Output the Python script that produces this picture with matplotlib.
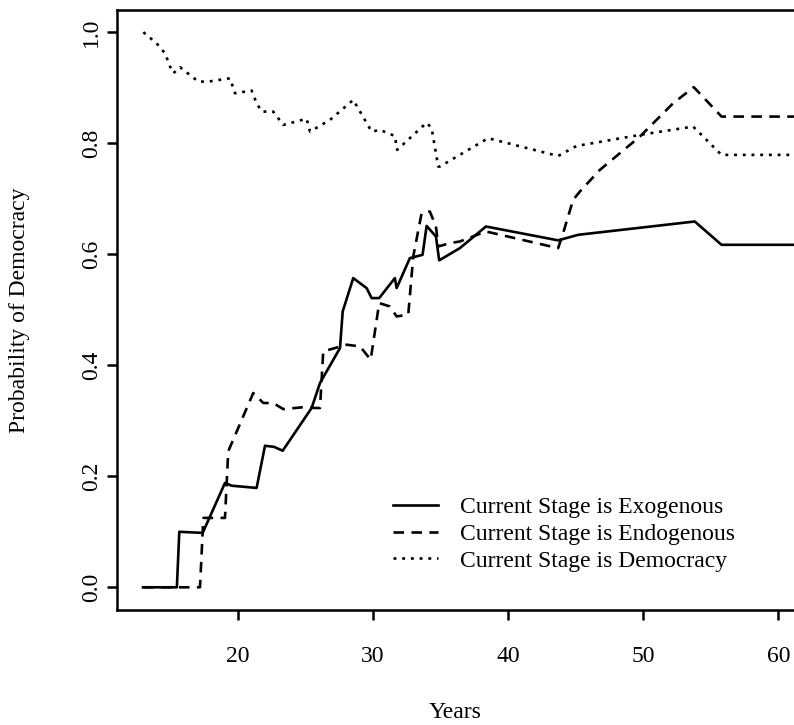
import numpy as np
import matplotlib
matplotlib.use("Agg")
import matplotlib.pyplot as plt

plt.rcParams['font.family'] = ['Liberation Serif', 'DejaVu Serif']

# Current stage is exogenous (solid)
exo_years = [13.0, 15.5, 15.68, 17.41, 19.06, 19.56, 21.4, 22.02, 22.69, 23.33, 25.47,
             26.09, 27.57, 27.77, 28.55, 29.54, 29.91, 30.47, 31.63, 31.76, 32.74, 33.68,
             33.98, 34.67, 34.91, 36.44, 38.37, 43.71, 45.19, 53.82, 55.8, 61.3]
exo_prob = [0.0, 0.0, 0.10, 0.098, 0.188, 0.183, 0.179, 0.255, 0.253, 0.246, 0.323,
            0.368, 0.431, 0.497, 0.557, 0.539, 0.521, 0.521, 0.557, 0.539, 0.593, 0.599,
            0.651, 0.632, 0.589, 0.611, 0.650, 0.625, 0.635, 0.659, 0.617, 0.617]

# Current stage is endogenous (dashed)
endo_years = [13.0, 17.21, 17.46, 19.06, 19.3, 21.15, 21.9, 22.63, 23.37, 25.1, 25.7,
              26.09, 26.33, 28.06, 29.05, 29.84, 30.47, 31.26, 31.76, 32.62, 32.99, 33.61,
              34.22, 34.67, 34.84, 35.7, 36.44, 38.37, 43.71, 44.08, 44.82, 45.32, 46.8,
              49.76, 52.22, 53.75, 55.8, 61.3]
endo_prob = [0.0, 0.0, 0.125, 0.125, 0.245, 0.350, 0.332, 0.332, 0.321, 0.325, 0.323,
             0.323, 0.425, 0.437, 0.434, 0.410, 0.512, 0.506, 0.488, 0.491, 0.596, 0.674,
             0.677, 0.650, 0.614, 0.620, 0.623, 0.641, 0.611, 0.638, 0.698, 0.713, 0.752,
             0.812, 0.872, 0.901, 0.848, 0.848]

# Current stage is democracy (dotted)
demo_years = [13.02, 14.0, 14.62, 15.0, 15.24, 15.73, 17.09, 17.83, 19.43, 19.8, 21.03,
              21.4, 21.78, 22.63, 23.37, 25.1, 25.35, 26.83, 28.55, 29.91, 30.53, 31.63,
              31.8, 33.98, 34.35, 34.84, 34.96, 38.53, 43.71, 45.07, 49.76, 53.7, 55.8, 61.3]
demo_prob = [1.0, 0.98, 0.962, 0.938, 0.926, 0.937, 0.911, 0.911, 0.917, 0.890, 0.895,
             0.872, 0.857, 0.857, 0.833, 0.844, 0.821, 0.842, 0.878, 0.821, 0.824, 0.813,
             0.788, 0.837, 0.827, 0.758, 0.758, 0.809, 0.777, 0.795, 0.815, 0.830, 0.779, 0.779]

labels = ["Current Stage is Exogenous", "Current Stage is Endogenous",
          "Current Stage is Democracy"]

W, H = 794, 725
fig = plt.figure(figsize=(W / 100, H / 100), dpi=100)
ax = fig.add_axes([117 / W, 1 - 609.5 / H, (821.8 - 117) / W, (609.5 - 10) / H])

lw = 1.9
ax.plot(exo_years, exo_prob, color="black", lw=lw, label=labels[0])
ax.plot(endo_years, endo_prob, color="black", lw=lw, dashes=(4, 2.8), label=labels[1])
ax.plot(demo_years, demo_prob, color="black", lw=lw, dashes=(1.1, 2.2), label=labels[2])

ax.set_xlim(11.07, 63.22)
ax.set_ylim(-0.04, 1.04)
ax.set_xticks([20, 30, 40, 50, 60])
ax.set_yticks([0.0, 0.2, 0.4, 0.6, 0.8, 1.0])
ax.set_yticklabels(["0.0", "0.2", "0.4", "0.6", "0.8", "1.0"])
for s in ax.spines.values():
    s.set_linewidth(1.8)
ax.tick_params(axis='both', direction='out', length=7, width=1.8, labelsize=17)
ax.tick_params(axis='x', pad=19)
ax.tick_params(axis='y', pad=4, labelrotation=90)
for t in ax.get_yticklabels():
    t.set_va('center')

fig.text(455 / W, 1 - 713 / H, "Years", ha='center', va='center', fontsize=17)
fig.text(20 / W, 1 - 310 / H, "Probability of Democracy", ha='center', va='center',
         rotation=90, fontsize=17)

fs = 17
ax.legend(loc='center left', bbox_to_anchor=(393 / W, 1 - 534 / H),
          bbox_transform=fig.transFigure, frameon=False, fontsize=fs,
          handlelength=45 / (fs * 1.389), handletextpad=22 / (fs * 1.389),
          labelspacing=0.23, borderpad=0, borderaxespad=0)

fig.savefig("out.png", dpi=100)
